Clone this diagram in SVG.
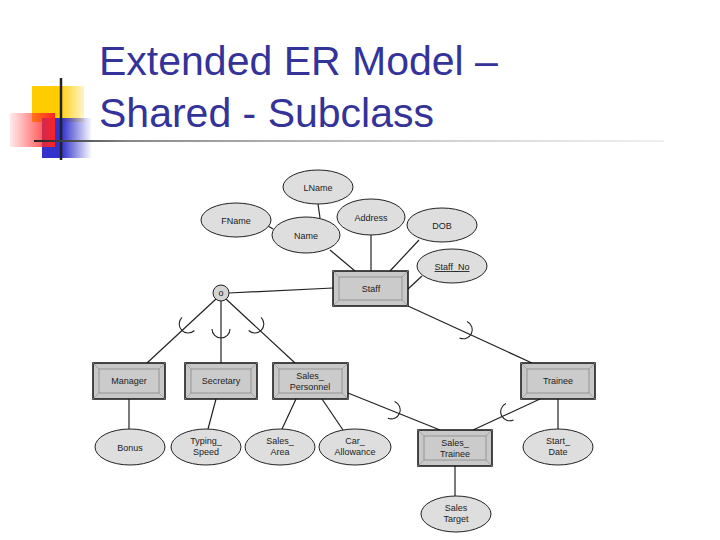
<svg xmlns="http://www.w3.org/2000/svg" width="720" height="540" viewBox="0 0 720 540">
<defs>
<linearGradient id="gr" x1="0" y1="0" x2="1" y2="0"><stop offset="0" stop-color="#ff3333" stop-opacity="0.1"/><stop offset="1" stop-color="#ff2222"/></linearGradient>
<linearGradient id="gy" x1="0" y1="0" x2="1" y2="0"><stop offset="0.5" stop-color="#ffcc00"/><stop offset="1" stop-color="#ffcc00" stop-opacity="0.2"/></linearGradient>
<linearGradient id="gb" x1="0" y1="0" x2="1" y2="0"><stop offset="0.4" stop-color="#3333cc"/><stop offset="1" stop-color="#3333cc" stop-opacity="0"/></linearGradient>
<linearGradient id="gl" x1="0" y1="0" x2="1" y2="0"><stop offset="0" stop-color="#222"/><stop offset="0.15" stop-color="#888"/><stop offset="1" stop-color="#ccc" stop-opacity="0.3"/></linearGradient>
<style>
.t{font-family:"Liberation Sans",Arial,sans-serif;font-size:9px;fill:#222;text-anchor:middle}
.title{font-family:"Liberation Sans",Arial,sans-serif;font-size:41px;fill:#333399}
.e{fill:#dedede;stroke:#222;stroke-width:1}
.o{fill:#c8c8c8;stroke:#111;stroke-width:1.5}
.i{fill:#cbcbcb;stroke:#888;stroke-width:0.8}
.b{stroke:#999;stroke-width:0.8}
.l{stroke:#222;stroke-width:1.2;fill:none}
.a{stroke:#222;stroke-width:1.1;fill:none}
</style>
</defs>
<g id="logo">
<rect x="32" y="86" width="52" height="36" fill="url(#gy)"/>
<rect x="42" y="118" width="50" height="40" fill="url(#gb)"/>
<rect x="10" y="113" width="45" height="34" fill="url(#gr)"/>
<line x1="61" y1="78" x2="61" y2="160" stroke="#222" stroke-width="2.5"/>
<rect x="34" y="140" width="630" height="2" fill="url(#gl)"/>
</g>
<text class="title" x="99" y="75">Extended ER Model –</text>
<text class="title" x="99" y="127">Shared - Subclass</text>
<g id="connectors">
<line class="l" x1="318" y1="204" x2="320" y2="218"/>
<line class="l" x1="268" y1="226" x2="273" y2="229"/>
<line class="l" x1="330" y1="250" x2="355" y2="271"/>
<line class="l" x1="371" y1="235" x2="371" y2="271"/>
<line class="l" x1="419" y1="240" x2="390" y2="271"/>
<line class="l" x1="422" y1="276" x2="408" y2="289"/>
<line class="l" x1="229" y1="293" x2="333" y2="288"/>
<line class="l" x1="216" y1="299" x2="147" y2="363"/>
<line class="l" x1="221" y1="301" x2="221" y2="363"/>
<line class="l" x1="226" y1="299" x2="295" y2="363"/>
<line class="l" x1="408" y1="306" x2="532" y2="363"/>
<line class="l" x1="348" y1="393" x2="440" y2="430"/>
<line class="l" x1="540" y1="399" x2="473" y2="430"/>
<line class="l" x1="129" y1="399" x2="129" y2="429"/>
<line class="l" x1="216" y1="399" x2="208" y2="429"/>
<line class="l" x1="296" y1="399" x2="282" y2="429"/>
<line class="l" x1="322" y1="399" x2="343" y2="430"/>
<line class="l" x1="558" y1="399" x2="558" y2="429" stroke="#555"/>
<line class="l" x1="455" y1="466" x2="455" y2="496" stroke="#555"/>
<path class="a" d="M-9 -3 A9 9 0 0 0 9 -3" transform="translate(186,326) rotate(46.6)"/>
<path class="a" d="M-9 -3 A9 9 0 0 0 9 -3" transform="translate(221,332)"/>
<path class="a" d="M-9 -3 A9 9 0 0 0 9 -3" transform="translate(257,326) rotate(-46.6)"/>
<path class="a" d="M-9 -3 A9 9 0 0 0 9 -3" transform="translate(466,331) rotate(-65.3)"/>
<path class="a" d="M-9 -3 A9 9 0 0 0 9 -3" transform="translate(394,411) rotate(-68)"/>
<path class="a" d="M-9 -3 A9 9 0 0 0 9 -3" transform="translate(507,413) rotate(65)"/>
</g>
<g id="LName"><ellipse class="e" cx="318" cy="187" rx="35" ry="17"/><text class="t" x="318" y="191">LName</text></g>
<g id="FName"><ellipse class="e" cx="236" cy="220" rx="35" ry="17"/><text class="t" x="236" y="224">FName</text></g>
<g id="Name"><ellipse class="e" cx="306" cy="235" rx="34" ry="18"/><text class="t" x="306" y="239">Name</text></g>
<g id="Address"><ellipse class="e" cx="371" cy="217" rx="34" ry="18"/><text class="t" x="371" y="221">Address</text></g>
<g id="DOB"><ellipse class="e" cx="442" cy="225" rx="35" ry="17"/><text class="t" x="442" y="229">DOB</text></g>
<g id="Staff_No"><ellipse class="e" cx="452" cy="266" rx="35" ry="17"/><text class="t" x="452" y="270" text-decoration="underline">Staff_No</text></g>
<g id="Staff"><rect class="o" x="333" y="271" width="75" height="35"/><rect class="i" x="339" y="277" width="63" height="23"/><path class="b" d="M333 271L339 277M408 271L402 277M333 306L339 300M408 306L402 300"/><text class="t" x="371" y="292">Staff</text></g>
<g id="disjoint"><circle cx="221" cy="293" r="8" fill="#d4d4d4" stroke="#222"/><text class="t" x="221" y="296" font-size="8">o</text></g>
<g id="Manager"><rect class="o" x="93" y="363" width="72" height="36"/><rect class="i" x="99" y="369" width="60" height="24"/><path class="b" d="M93 363L99 369M165 363L159 369M93 399L99 393M165 399L159 393"/><text class="t" x="129" y="384">Manager</text></g>
<g id="Secretary"><rect class="o" x="185" y="363" width="72" height="36"/><rect class="i" x="191" y="369" width="60" height="24"/><path class="b" d="M185 363L191 369M257 363L251 369M185 399L191 393M257 399L251 393"/><text class="t" x="221" y="384">Secretary</text></g>
<g id="Sales_Personnel"><rect class="o" x="273" y="363" width="75" height="36"/><rect class="i" x="279" y="369" width="63" height="24"/><path class="b" d="M273 363L279 369M348 363L342 369M273 399L279 393M348 399L342 393"/><text class="t" x="310" y="379">Sales_</text><text class="t" x="310" y="390">Personnel</text></g>
<g id="Trainee"><rect class="o" x="521" y="363" width="74" height="36"/><rect class="i" x="527" y="369" width="62" height="24"/><path class="b" d="M521 363L527 369M595 363L589 369M521 399L527 393M595 399L589 393"/><text class="t" x="558" y="384">Trainee</text></g>
<g id="Sales_Trainee"><rect class="o" x="418" y="430" width="74" height="36"/><rect class="i" x="424" y="436" width="62" height="24"/><path class="b" d="M418 430L424 436M492 430L486 436M418 466L424 460M492 466L486 460"/><text class="t" x="455" y="446">Sales_</text><text class="t" x="455" y="457">Trainee</text></g>
<g id="Bonus"><ellipse class="e" cx="130" cy="447" rx="35" ry="18"/><text class="t" x="130" y="451">Bonus</text></g>
<g id="Typing_Speed"><ellipse class="e" cx="206" cy="447" rx="35" ry="18"/><text class="t" x="206" y="444">Typing_</text><text class="t" x="206" y="455">Speed</text></g>
<g id="Sales_Area"><ellipse class="e" cx="280" cy="447" rx="35" ry="18"/><text class="t" x="280" y="444">Sales_</text><text class="t" x="280" y="455">Area</text></g>
<g id="Car_Allowance"><ellipse class="e" cx="355" cy="447" rx="36" ry="18"/><text class="t" x="355" y="444">Car_</text><text class="t" x="355" y="455">Allowance</text></g>
<g id="Start_Date"><ellipse class="e" cx="558" cy="447" rx="35" ry="18"/><text class="t" x="558" y="444">Start_</text><text class="t" x="558" y="455">Date</text></g>
<g id="Sales_Target"><ellipse class="e" cx="456" cy="514" rx="35" ry="18"/><text class="t" x="456" y="511">Sales</text><text class="t" x="456" y="522">Target</text></g>
</svg>
